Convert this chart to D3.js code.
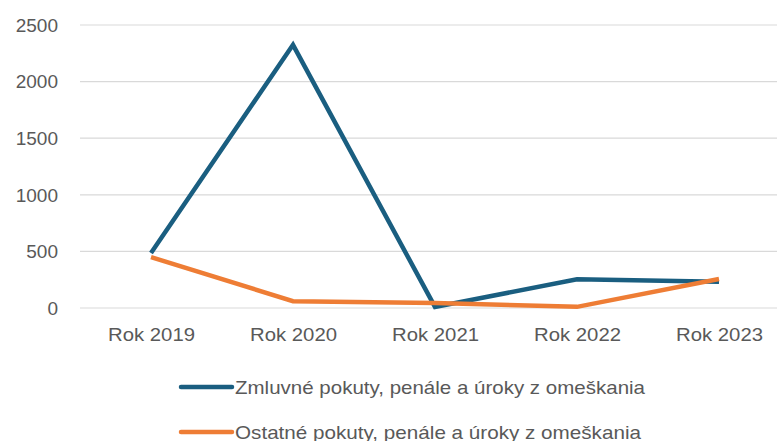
<!DOCTYPE html>
<html><head><meta charset="utf-8">
<script src="https://cdn.jsdelivr.net/npm/d3@7"></script>
<style>body{margin:0;background:#fff}svg{display:block}text{font-family:"Liberation Sans","Noto Sans",sans-serif;fill:#595959}</style>
</head><body><svg id="c" width="777" height="441"></svg>
<script>
const categories=["Rok 2019","Rok 2020","Rok 2021","Rok 2022","Rok 2023"];
const seriesNames=["Zmluvné pokuty, penále a úroky z omeškania","Ostatné pokuty, penále a úroky z omeškania"];
const zmluvne=[485,2325,10,253,232];
const ostatne=[450,60,45,10,256];
const yTicks=[0,500,1000,1500,2000,2500];
const colors=["#1a5e80","#ee7d35"];

const svg=d3.select("#c");
const x=d3.scalePoint().domain(categories).range([151,719]);
const y=d3.scaleLinear().domain([0,2500]).range([308,25]);

svg.append("g").selectAll("line").data(yTicks).join("line")
 .attr("x1",80).attr("x2",777).attr("y1",d=>y(d)).attr("y2",d=>y(d))
 .attr("stroke","#d9d9d9").attr("stroke-width",1.2);
svg.append("g").selectAll("text").data(yTicks).join("text")
 .attr("x",58).attr("y",d=>y(d)).attr("dy","0.36em").attr("text-anchor","end")
 .attr("font-size",19).text(d=>d);
svg.append("g").selectAll("text").data(categories).join("text")
 .attr("x",d=>x(d)-43).attr("y",341)
 .attr("font-size",19).attr("textLength",87).attr("lengthAdjust","spacingAndGlyphs").text(d=>d);

const line=d3.line().x((d,i)=>x(categories[i])).y(d=>y(d));
[zmluvne,ostatne].forEach((s,k)=>{
 svg.append("path").datum(s).attr("d",line).attr("fill","none")
  .attr("stroke",colors[k]).attr("stroke-width",4.5).attr("stroke-linejoin","miter");
});
const leg=svg.append("g");
seriesNames.forEach((n,k)=>{
 const yy=387+k*45;
 leg.append("line").attr("x1",181).attr("x2",232).attr("y1",yy).attr("y2",yy)
  .attr("stroke",colors[k]).attr("stroke-width",4.5).attr("stroke-linecap","round");
 leg.append("text").attr("x",235).attr("y",yy).attr("dy","0.36em").attr("font-size",19)
  .attr("textLength",k===0?410:406).attr("lengthAdjust","spacingAndGlyphs").text(n);
});
</script></body></html>
